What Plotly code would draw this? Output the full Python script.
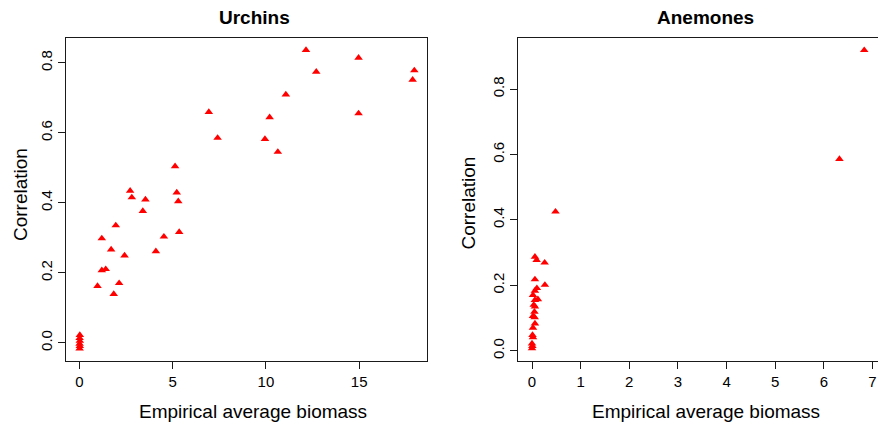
import plotly.graph_objects as go

# ---- data ----
urchin_biomass = [12.15, 12.70, 14.97, 17.96, 17.87, 14.97, 11.07, 10.20, 9.95, 10.64,
                  6.94, 7.41, 5.13, 5.22, 5.30, 5.35, 2.72, 2.81, 3.54, 3.40,
                  4.53, 4.10, 1.95, 1.20, 1.70, 2.42, 1.20, 1.41, 0.97, 2.13, 1.84,
                  0.02, 0.01, 0.02, 0.01, 0.02, 0.01]
urchin_corr = [0.836, 0.774, 0.814, 0.778, 0.751, 0.655, 0.709, 0.644, 0.582, 0.545,
               0.659, 0.585, 0.504, 0.429, 0.404, 0.316, 0.434, 0.415, 0.409, 0.376,
               0.303, 0.261, 0.335, 0.298, 0.266, 0.249, 0.207, 0.210, 0.162, 0.170, 0.139,
               0.022, 0.013, 0.005, -0.003, -0.010, -0.017]

anemone_biomass = [6.83, 6.32, 0.483, 0.26, 0.265, 0.06, 0.095, 0.06, 0.10, 0.06,
                   0.02, 0.12, 0.06, 0.035, 0.06, 0.05, 0.02, 0.055, 0.06, 0.02,
                   0.01, 0.02, 0.0, 0.007, 0.0]
anemone_corr = [0.919, 0.586, 0.425, 0.269, 0.201, 0.287, 0.277, 0.218, 0.191, 0.183,
                0.170, 0.157, 0.155, 0.140, 0.135, 0.119, 0.106, 0.102, 0.083, 0.070,
                0.048, 0.041, 0.022, 0.014, 0.007]

urchin_xticks = [0, 5, 10, 15]
anemone_xticks = [0, 1, 2, 3, 4, 5, 6, 7]
corr_ticks = [0.0, 0.2, 0.4, 0.6, 0.8]

W, H = 878, 424
FONT = "Liberation Sans, Arial, Helvetica, sans-serif"


def px(x):
    return x / W


def py(y):
    return 1 - y / H


marker = dict(symbol="triangle-up", color="#ff0000", size=7.5, line=dict(width=0))

fig = go.Figure()
fig.add_trace(go.Scatter(x=urchin_biomass, y=urchin_corr, mode="markers",
                         marker=marker, xaxis="x", yaxis="y", showlegend=False))
fig.add_trace(go.Scatter(x=anemone_biomass, y=anemone_corr, mode="markers",
                         marker=marker, xaxis="x2", yaxis="y2", showlegend=False))

axis_common = dict(showgrid=False, zeroline=False, showline=True, linecolor="#1a1a1a",
                   linewidth=1, ticks="outside", ticklen=7, tickcolor="#1a1a1a",
                   tickwidth=1, tickfont=dict(size=15, color="black", family=FONT))

fig.update_layout(
    width=W, height=H, autosize=False,
    margin=dict(l=0, r=0, t=0, b=0),
    paper_bgcolor="white", plot_bgcolor="white",
    font=dict(family=FONT, color="black"),
    xaxis=dict(domain=[px(66), px(427)], range=[-0.72, 18.64], tickvals=urchin_xticks,
               mirror=True, anchor="y", **axis_common),
    yaxis=dict(domain=[py(361), py(38)], range=[-0.0523, 0.8706], tickvals=corr_ticks,
               tickformat=".1f", tickangle=-90, mirror=True, anchor="x", **axis_common),
    xaxis2=dict(domain=[px(518), 1.0], range=[-0.288, 7.113], tickvals=anemone_xticks,
                mirror=True, anchor="y2", **axis_common),
    yaxis2=dict(domain=[py(361), py(38)], range=[-0.0315, 0.9562], tickvals=corr_ticks,
                tickformat=".1f", tickangle=-90, mirror=False, anchor="x2", **axis_common),
)

ann = []
ann.append(dict(text="<b>Urchins</b>", x=px(254), y=py(17), font=dict(size=19)))
ann.append(dict(text="<b>Anemones</b>", x=px(705), y=py(17), font=dict(size=19)))
ann.append(dict(text="Empirical average biomass", x=px(253), y=py(411), font=dict(size=19)))
ann.append(dict(text="Empirical average biomass", x=px(706), y=py(411), font=dict(size=19)))
ann.append(dict(text="Correlation", x=px(20), y=py(195), textangle=-90, font=dict(size=19)))
ann.append(dict(text="Correlation", x=px(467.5), y=py(203), textangle=-90, font=dict(size=19)))
for a in ann:
    a.update(xref="paper", yref="paper", showarrow=False, xanchor="center", yanchor="middle")
    a["font"].update(family=FONT, color="black")
fig.update_layout(annotations=ann)

fig.write_html("out.html")
